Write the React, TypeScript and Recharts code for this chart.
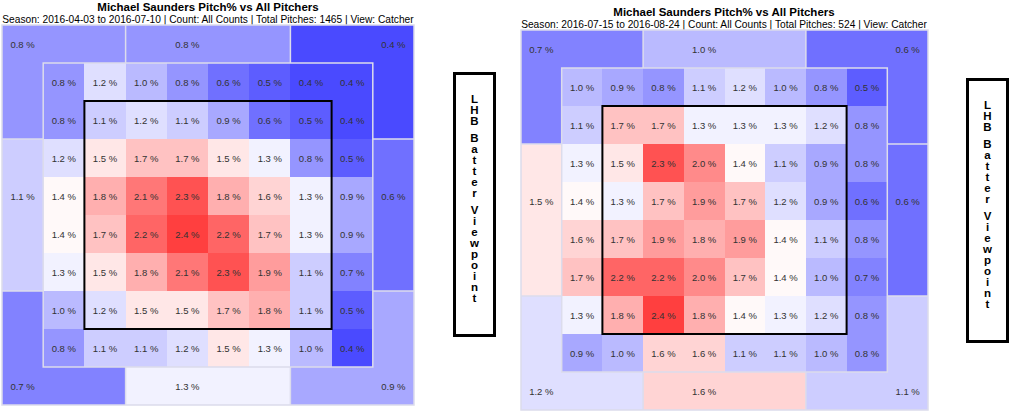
import { ScatterChart, Scatter, XAxis, YAxis, ReferenceArea, ReferenceLine } from 'recharts';

// ---- text ----
const TITLE = 'Michael Saunders Pitch% vs All Pitchers';
const LEFT_SUBTITLE =
  'Season: 2016-04-03 to 2016-07-10 | Count: All Counts | Total Pitches: 1465 | View: Catcher';
const RIGHT_SUBTITLE =
  'Season: 2016-07-15 to 2016-08-24 | Count: All Counts | Total Pitches: 524 | View: Catcher';
const SIDE_LABEL = 'LHB Batter Viewpoint';

// ---- data: inner 8x8 zone, rows top -> bottom (catcher view) ----
const LEFT_ZONES = [
  [0.8, 1.2, 1.0, 0.8, 0.6, 0.5, 0.4, 0.4],
  [0.8, 1.1, 1.2, 1.1, 0.9, 0.6, 0.5, 0.4],
  [1.2, 1.5, 1.7, 1.7, 1.5, 1.3, 0.8, 0.5],
  [1.4, 1.8, 2.1, 2.3, 1.8, 1.6, 1.3, 0.9],
  [1.4, 1.7, 2.2, 2.4, 2.2, 1.7, 1.3, 0.9],
  [1.3, 1.5, 1.8, 2.1, 2.3, 1.9, 1.1, 0.7],
  [1.0, 1.2, 1.5, 1.5, 1.7, 1.8, 1.1, 0.5],
  [0.8, 1.1, 1.1, 1.2, 1.5, 1.3, 1.0, 0.4],
];
const RIGHT_ZONES = [
  [1.0, 0.9, 0.8, 1.1, 1.2, 1.0, 0.8, 0.5],
  [1.1, 1.7, 1.7, 1.3, 1.3, 1.3, 1.2, 0.8],
  [1.3, 1.5, 2.3, 2.0, 1.4, 1.1, 0.9, 0.8],
  [1.4, 1.3, 1.7, 1.9, 1.7, 1.2, 0.9, 0.6],
  [1.6, 1.7, 1.9, 1.8, 1.9, 1.4, 1.1, 0.8],
  [1.7, 2.2, 2.2, 2.0, 1.7, 1.4, 1.0, 0.7],
  [1.3, 1.8, 2.4, 1.8, 1.4, 1.3, 1.2, 0.8],
  [0.9, 1.0, 1.6, 1.6, 1.1, 1.1, 1.0, 0.8],
];

// outer ring: top-left, top, top-right, left, right, bottom-left, bottom, bottom-right
const OUTER_NAMES = ['TL', 'T', 'TR', 'L', 'R', 'BL', 'B', 'BR'];
const LEFT_OUTER = [0.8, 0.8, 0.4, 1.1, 0.6, 0.7, 1.3, 0.9];
const RIGHT_OUTER = [0.7, 1.0, 0.6, 1.5, 0.6, 1.2, 1.6, 1.1];

// ---- layout of the outer regions in grid units (10x10 incl. ring) ----
const OUTER_LAYOUT: Record<string, { rects: number[][]; label: number[] }> = {
  TL: { rects: [[0, 0, 3, 1], [0, 1, 1, 3]], label: [0, 0] },
  T: { rects: [[3, 0, 7, 1]], label: [4, 0] },
  TR: { rects: [[7, 0, 10, 1], [9, 1, 10, 3]], label: [9, 0] },
  L: { rects: [[0, 3, 1, 7]], label: [0, 4] },
  R: { rects: [[9, 3, 10, 7]], label: [9, 4] },
  BL: { rects: [[0, 9, 3, 10], [0, 7, 1, 9]], label: [0, 9] },
  B: { rects: [[3, 9, 7, 10]], label: [4, 9] },
  BR: { rects: [[7, 9, 10, 10], [9, 7, 10, 9]], label: [9, 9] },
};

const DIVIDERS = [
  [[3, 0], [3, 1]], [[7, 0], [7, 1]], [[3, 9], [3, 10]], [[7, 9], [7, 10]],
  [[0, 3], [1, 3]], [[0, 7], [1, 7]], [[9, 3], [10, 3]], [[9, 7], [10, 7]],
];

const FONT = '"Liberation Sans", Arial, sans-serif';

// white around 1.37 %, saturating towards blue / red
function heat(v: number) {
  const mid = 1.37;
  const t = Math.min(1, Math.abs(v - mid) / 1.37);
  const c = Math.round(255 * (1 - t));
  return v < mid ? `rgb(${c},${c},255)` : `rgb(255,${c},${c})`;
}

interface HeatProps {
  zones: number[][];
  outer: number[];
  width: number;
  height: number;
}

function ZoneLabel(props: any) {
  const { cx, cy, payload } = props;
  return (
    <text
      x={cx}
      y={cy}
      textAnchor="middle"
      dominantBaseline="central"
      fontSize={9.5}
      fontFamily={FONT}
      fill="#333"
    >
      {payload.v.toFixed(1)} %
    </text>
  );
}

function ZoneChart({ zones, outer, width, height }: Readonly<HeatProps>) {
  const points: { x: number; y: number; v: number }[] = [];
  zones.forEach((row, r) =>
    row.forEach((v, c) => points.push({ x: c + 1.5, y: r + 1.5, v })),
  );
  OUTER_NAMES.forEach((name, i) => {
    const [c, r] = OUTER_LAYOUT[name].label;
    points.push({ x: c + 0.5, y: r + 0.5, v: outer[i] });
  });

  return (
    <ScatterChart width={width} height={height} margin={{ top: 1, right: 1, bottom: 1, left: 1 }}>
      <XAxis type="number" dataKey="x" domain={[0, 10]} hide allowDataOverflow />
      <YAxis type="number" dataKey="y" domain={[0, 10]} reversed hide allowDataOverflow />

      {/* outer ring */}
      {OUTER_NAMES.map((name, i) =>
        OUTER_LAYOUT[name].rects.map(([x1, y1, x2, y2]) => (
          <ReferenceArea
            key={`${name}-${x1}-${y1}`}
            x1={x1}
            x2={x2}
            y1={y1}
            y2={y2}
            fill={heat(outer[i])}
            fillOpacity={1}
            stroke="none"
            shapeRendering="crispEdges"
          />
        )),
      )}

      {/* inner cells */}
      {zones.map((row, r) =>
        row.map((v, c) => (
          <ReferenceArea
            key={`z-${r}-${c}`}
            x1={c + 1}
            x2={c + 2}
            y1={r + 1}
            y2={r + 2}
            fill={heat(v)}
            fillOpacity={1}
            stroke="none"
            shapeRendering="crispEdges"
          />
        )),
      )}

      {DIVIDERS.map(([a, b]) => (
        <ReferenceLine
          key={`d-${a.join()}-${b.join()}`}
          segment={[{ x: a[0], y: a[1] }, { x: b[0], y: b[1] }]}
          stroke="#dcdcec"
          strokeWidth={1.5}
        />
      ))}
      <ReferenceArea x1={1} x2={9} y1={1} y2={9} fill="none" stroke="#dcdcec" strokeWidth={1.5} />
      <ReferenceArea x1={0} x2={10} y1={0} y2={10} fill="none" stroke="#dcdcec" strokeWidth={1.5} />

      {/* strike zone */}
      <ReferenceArea x1={2} x2={8} y1={2} y2={8} fill="none" stroke="#000" strokeWidth={2} />

      <Scatter data={points} isAnimationActive={false} shape={ZoneLabel} />
    </ScatterChart>
  );
}

function SideBox({ left, top }: Readonly<{ left: number; top: number }>) {
  return (
    <div
      style={{
        position: 'absolute',
        left,
        top,
        width: 43,
        height: 265,
        border: '3px solid #000',
        boxSizing: 'border-box',
        paddingTop: 19,
        textAlign: 'center',
        fontFamily: FONT,
        fontWeight: 'bold',
        fontSize: 11.5,
        lineHeight: '11px',
        color: '#000',
      }}
    >
      {SIDE_LABEL.split('').map((ch, i) => (
        <div key={i} style={{ height: ch === ' ' ? 6 : 11 }}>
          {ch === ' ' ? '' : ch}
        </div>
      ))}
    </div>
  );
}

function Titles({ center, top, subtitle }: Readonly<{ center: number; top: number; subtitle: string }>) {
  return (
    <div
      style={{
        position: 'absolute',
        left: center - 260,
        top,
        width: 520,
        textAlign: 'center',
        fontFamily: FONT,
        color: '#000',
      }}
    >
      <div style={{ fontWeight: 'bold', fontSize: 11.5, lineHeight: '13px' }}>{TITLE}</div>
      <div style={{ fontSize: 10.2, lineHeight: '11px' }}>{subtitle}</div>
    </div>
  );
}

export default function App() {
  return (
    <div
      style={{
        position: 'absolute',
        left: 0,
        top: 0,
        width: 1024,
        height: 416,
        background: '#fff',
        overflow: 'hidden',
      }}
    >
      <Titles center={208} top={1} subtitle={LEFT_SUBTITLE} />
      <div style={{ position: 'absolute', left: 1, top: 24 }}>
        <ZoneChart zones={LEFT_ZONES} outer={LEFT_OUTER} width={414} height={382} />
      </div>
      <SideBox left={453} top={72} />

      <Titles center={724} top={6} subtitle={RIGHT_SUBTITLE} />
      <div style={{ position: 'absolute', left: 520, top: 29 }}>
        <ZoneChart zones={RIGHT_ZONES} outer={RIGHT_OUTER} width={409} height={382} />
      </div>
      <SideBox left={966} top={78} />
    </div>
  );
}
